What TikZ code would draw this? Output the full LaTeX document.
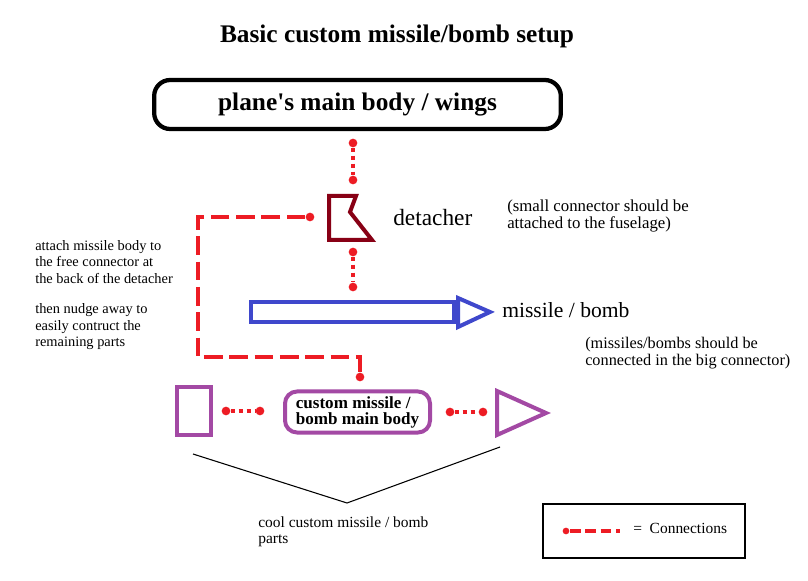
\documentclass[tikz,border=0pt]{standalone}
\usepackage{fontspec}
\setmainfont{Liberation Serif}
\definecolor{cred}{HTML}{ED1C24}
\definecolor{cblue}{HTML}{3F48CC}
\definecolor{cpurple}{HTML}{A349A4}
\definecolor{cmaroon}{HTML}{880015}
\begin{document}
\begin{tikzpicture}[x=0.75pt,y=-0.75pt,
  conn/.style={draw=cred, line width=3pt, dash pattern=on 3pt off 3pt},
  dashconn/.style={draw=cred, line width=3pt, dash pattern=on 14pt off 5pt},
  dot/.style={circle, fill=cred, inner sep=0pt, minimum size=6.5pt},
  small/.style={font=\fontsize{11.6}{12.5}\selectfont, align=left, anchor=north west, inner sep=0pt},
  big/.style={font=\fontsize{17}{20}\selectfont, anchor=west, inner sep=0pt},
  boldbig/.style={font=\bfseries\fontsize{19}{22}\selectfont},
  partline/.style={cpurple, line width=3pt},
]
\useasboundingbox[fill=white] (0,0) rectangle (808,581);

% title
\node[boldbig] (title) at (397,36) {Basic custom missile/bomb setup};

% plane body
\node[draw=black, line width=3.2pt, rounded corners=12pt, minimum width=305pt,
      minimum height=36.75pt, boldbig] (plane) at (357.5,104.5) {plane\textquotesingle s main body / wings};

% plane -> detacher connection
\node[dot] (p1) at (353,143) {};
\node[dot] (p2) at (353,180) {};
\draw[conn] (p1) -- (p2);

% detacher
\draw[cmaroon, line width=3pt, line join=miter] (329,196) -- (356,196) -- (350,212) -- (372,240) -- (329,240) -- cycle;
\node[big, font=\fontsize{17.5}{20}\selectfont] (detlabel) at (393,218) {detacher};
\node[small, font=\fontsize{12.6}{12.8}\selectfont] (detnote) at (507,200) {(small connector should be\\attached to the fuselage)};

% detacher -> missile connection
\node[dot] (q1) at (353,252) {};
\node[dot] (q2) at (353,287) {};
\draw[conn] (q1) -- (q2);

% missile
\node[draw=cblue, line width=3pt, minimum width=152pt, minimum height=14.5pt, inner sep=0pt] (missile) at (352.5,312) {};
\draw[cblue, line width=3pt, line join=miter] (458,298) -- (490,312) -- (458,327) -- cycle;
\node[big, font=\fontsize{16.2}{20}\selectfont] (mislabel) at (502,310) {missile / bomb};
\node[small, font=\fontsize{12.2}{12.8}\selectfont] (misnote) at (585,337) {(missiles/bombs should be\\connected in the big connector)};

% dashed connection from detacher back to body
\node[dot] (r1) at (310,217) {};
\node[dot] (r2) at (360,377) {};
\coordinate (rc1) at (198,217);
\coordinate (rc2) at (198,357);
\coordinate (rc3) at (360,357);
\draw[dashconn, line join=miter] (r1) -- (rc1) -- (rc2) -- (rc3) -- (r2);

% left note
\node[small, font=\fontsize{10.8}{12.5}\selectfont] (leftnote) at (35,240) {attach missile body to\\the free connector at\\the back of the detacher\\[10pt]then nudge away to\\easily contruct the\\remaining parts};

% custom parts
\node[draw=cpurple, line width=3pt, minimum width=25.5pt, minimum height=36pt, inner sep=0pt] (tail) at (194,411) {};
\node[draw=cpurple, line width=3pt, rounded corners=9pt, minimum width=108.75pt, minimum height=30.75pt,
      font=\bfseries\fontsize{12.8}{12}\selectfont, align=left, inner sep=0pt] (body) at (357.5,412) {custom missile /\\bomb main body};
\draw[partline, line join=miter] (497,391) -- (546,413) -- (497,435) -- cycle;
\coordinate (nose) at (497,413);

\node[dot] (s1) at (226,411) {};
\node[dot] (s2) at (260,411) {};
\draw[conn] (s1) -- (s2);
\node[dot] (t1) at (450,412) {};
\node[dot] (t2) at (483,412) {};
\draw[conn] (t1) -- (t2);

% bracket lines
\coordinate (b1) at (193,454);
\coordinate (b2) at (347,503);
\coordinate (b3) at (500,447);
\draw[black, line width=0.8pt] (b1) -- (b2) -- (b3);
\node[small] (coolnote) at (258,516) {cool custom missile / bomb\\parts};

% legend
\node[draw=black, line width=0.9pt, minimum width=151.5pt, minimum height=40.5pt, inner sep=0pt] (legend) at (644,531) {};
\node[dot, minimum size=5pt] (l1) at (566,531) {};
\coordinate (l2) at (620,531);
\draw[draw=cred, line width=3pt, dash pattern=on 8pt off 3.5pt] ([xshift=3pt]l1.center) -- (l2);
\node[font=\fontsize{11.6}{12}\selectfont, anchor=west, inner sep=0pt] (legtext) at (633,528) {=\ \ Connections};
\end{tikzpicture}
\end{document}
